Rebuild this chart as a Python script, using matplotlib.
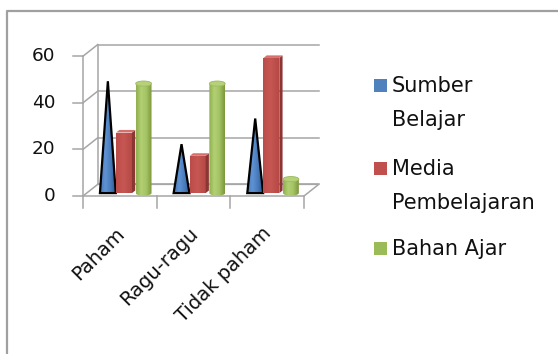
import matplotlib
matplotlib.use('Agg')
import matplotlib.pyplot as plt
import numpy as np
from matplotlib.colors import LinearSegmentedColormap
from matplotlib.patches import Polygon, Ellipse, Rectangle
from matplotlib.lines import Line2D

categories = ['Paham', 'Ragu-ragu', 'Tidak paham']
series_labels = ['Sumber\nBelajar', 'Media\nPembelajaran', 'Bahan Ajar']
sumber_belajar = [48, 21, 32]
media_pembelajaran = [26, 16, 58]
bahan_ajar = [47, 47, 6]
y_ticks = [0, 20, 40, 60]

BLUE, RED, GREEN = '#4f81bd', '#c0504d', '#9bbb59'
GRID = '#a6a6a6'
FONT = 'DejaVu Sans'
FS_TICK = 13.3
FS_CAT = 14
FS = 15
INK = '#111111'

# canvas in pixels and where the front plane of the box sits on it
W, H = 558, 354
PX_LEFT, PX_CAT = 83, 73.67
PX_BASE, PX_UNIT = 196, 2.33
DX, DY = 0.2, 5.0          # depth of the box (category units, value units)

# bar geometry inside a category slot
BAR_W = 0.215
BAR_OFF = [0.18, 0.40, 0.665]
BAR_D = 0.25               # depth fraction of the bar front face
BAR_T = 0.22               # thickness of the red boxes (depth fraction)

fig = plt.figure(figsize=(W / 100, H / 100), dpi=100)
ax = fig.add_axes([0, 0, 1, 1])
XLIM = (-PX_LEFT / PX_CAT, (W - PX_LEFT) / PX_CAT)
YLIM = ((PX_BASE - H) / PX_UNIT, PX_BASE / PX_UNIT)
ax.axis('off')


def cmap(*cols):
    return LinearSegmentedColormap.from_list('c', cols)


def shade(verts, cm, z):
    """Fill a polygon with a left-to-right gradient."""
    patch = Polygon(verts, closed=True, facecolor='none', edgecolor='none')
    ax.add_patch(patch)
    xs, ys = np.asarray(verts).T
    grad = np.linspace(0, 1, 64).reshape(1, -1)
    im = ax.imshow(grad, cmap=cm, aspect='auto', interpolation='bicubic',
                   extent=(xs.min(), xs.max(), ys.min(), ys.max()), zorder=z)
    im.set_clip_path(patch)


# back wall grid, side diagonals and floor
top = y_ticks[-1]
for t in y_ticks:
    ax.plot([DX, len(categories) + DX], [t + DY, t + DY], color=GRID, lw=1.1, zorder=1)
    ax.plot([0, DX], [t, t + DY], color=GRID, lw=1.1, zorder=1)
    ax.plot([-0.13, 0], [t, t], color=GRID, lw=1.1, zorder=1)
    ax.text(-0.37, t, str(t), ha='right', va='center', fontsize=FS_TICK,
            family=FONT, color=INK)
ax.plot([DX, DX], [DY, top + DY], color=GRID, lw=1.1, zorder=1)
ax.plot([0, 0], [-5, top], color=GRID, lw=1.1, zorder=1)
n = len(categories)
ax.plot([0, n, n + DX, DX], [0, 0, DY, DY], color=GRID, lw=1.1, zorder=1)
for i in range(1, n + 1):
    ax.plot([i, i], [0, -5], color=GRID, lw=1.1, zorder=1)

ox, oy = BAR_D * DX, BAR_D * DY
tx, ty = BAR_T * DX, BAR_T * DY
z = 3
for i in range(n):
    # cone
    x0 = i + BAR_OFF[0] + ox
    v = sumber_belajar[i]
    cone = [(x0, oy), (x0 + BAR_W, oy), (x0 + BAR_W / 2, v + oy)]
    shade(cone, cmap('#4677b8', '#5f93d4', '#4a7cbc', '#2a5690'), z)
    ax.add_patch(Polygon(cone, closed=True, facecolor='none',
                         edgecolor='black', lw=1.6, zorder=z + 0.5))
    z += 1

    # box
    x0 = i + BAR_OFF[1] + ox
    v = media_pembelajaran[i]
    front = [(x0, oy), (x0 + BAR_W, oy), (x0 + BAR_W, v + oy), (x0, v + oy)]
    side = [(x0 + BAR_W, oy), (x0 + BAR_W + tx, oy + ty),
            (x0 + BAR_W + tx, v + oy + ty), (x0 + BAR_W, v + oy)]
    lid = [(x0, v + oy), (x0 + tx, v + oy + ty),
           (x0 + BAR_W + tx, v + oy + ty), (x0 + BAR_W, v + oy)]
    shade(front, cmap('#bb4c49', '#c65753', '#b64845'), z)
    ax.add_patch(Polygon(side, closed=True, facecolor='#8c3634', edgecolor='none', zorder=z))
    ax.add_patch(Polygon(lid, closed=True, facecolor='#d5706c', edgecolor='none', zorder=z))
    z += 1

    # cylinder
    x0 = i + BAR_OFF[2] + ox
    v = bahan_ajar[i]
    cx, rx, ry = x0 + BAR_W / 2, BAR_W / 2, 1.1
    th = np.linspace(np.pi, 2 * np.pi, 40)
    bottom = np.column_stack([cx + rx * np.cos(th), oy + ry * np.sin(th)])
    upper = np.column_stack([cx + rx * np.cos(th[::-1]), v + oy + ry * np.sin(th[::-1])])
    body = np.vstack([bottom, upper])
    shade(body, cmap('#8fae4f', '#b3d173', '#a3c263', '#7a9838'), z)
    ax.add_patch(Ellipse((cx, v + oy), 2 * rx, 2 * ry, facecolor='#b5d27a',
                         edgecolor='#9ab85a', lw=0.6, zorder=z + 0.5))
    z += 1

    ax.text(i + 0.43, -12, categories[i], rotation=45, rotation_mode='anchor',
            ha='right', va='top', fontsize=FS_CAT, family=FONT, color=INK)

# legend
leg_y = [86, 169, 249]
for col, lab, py in zip([BLUE, RED, GREEN], series_labels, leg_y):
    fig.patches.append(Rectangle((374 / W, 1 - (py + 6) / H), 13 / W, 13 / H,
                                 transform=fig.transFigure, facecolor=col,
                                 edgecolor='none'))
    for k, line in enumerate(lab.split('\n')):
        fig.text(392 / W, 1 - (py + 34 * k) / H, line, ha='left', va='center',
                 fontsize=FS, family=FONT, color=INK)

# chart area border (top and left edges)
fig.add_artist(Line2D([7 / W, 7 / W, 1], [0, 1 - 11 / H, 1 - 11 / H],
                      transform=fig.transFigure, color='#a0a0a0', lw=1.6))

ax.set_xlim(*XLIM)
ax.set_ylim(*YLIM)
fig.savefig('out.png', dpi=100)
